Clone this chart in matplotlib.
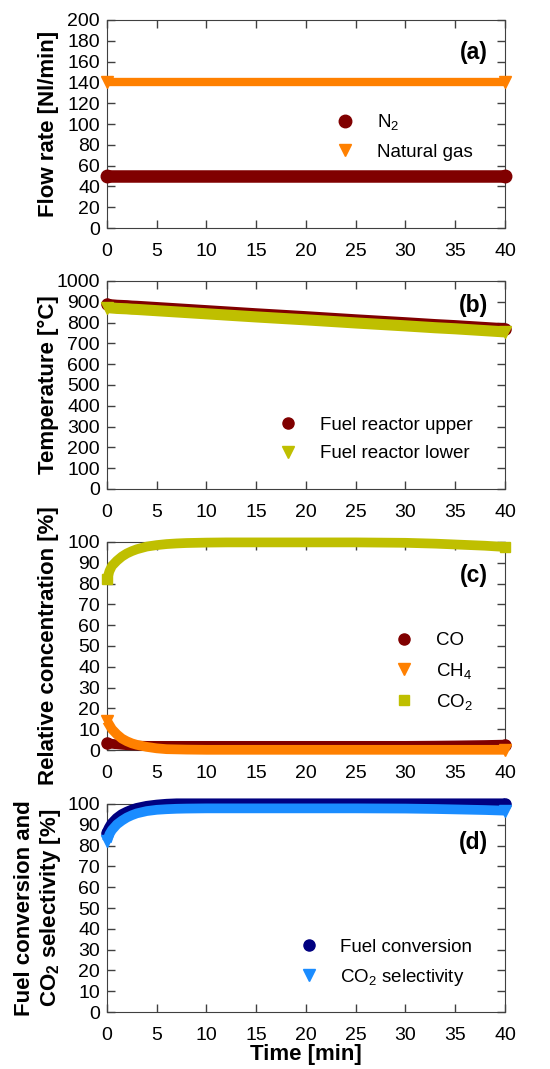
import matplotlib
matplotlib.use('Agg')
import matplotlib.pyplot as plt
from matplotlib.lines import Line2D

plt.rcParams['font.family'] = ['Liberation Sans', 'DejaVu Sans']
plt.rcParams['mathtext.fontset'] = 'custom'
plt.rcParams['mathtext.rm'] = 'Liberation Sans'
plt.rcParams['mathtext.it'] = 'Liberation Sans:italic'
plt.rcParams['mathtext.bf'] = 'Liberation Sans:bold'

# ---------------- data ----------------
t = [0, 0.25, 0.5, 1, 1.5, 2, 2.5, 3, 4, 5, 6, 7, 8, 10, 12, 15,
     20, 25, 30, 33, 35, 38, 40]

n2_flow = [50] * len(t)
ng_flow = [140] * len(t)

temp_upper = [887, 886, 885, 883, 882, 881, 879, 878, 875, 872, 869, 866,
              863, 857, 851, 842, 828, 813, 799, 790, 785, 776, 770]
temp_lower = [872, 871, 870, 868, 867, 866, 864, 863, 860, 857, 854, 851,
              848, 842, 836, 827, 813, 798, 784, 775, 770, 761, 755]

co_conc = [3.5, 3.2, 3.0, 2.7, 2.5, 2.3, 2.2, 2.1, 2.0, 2.0, 2.0, 2.0,
           2.0, 2.0, 2.0, 2.0, 2.0, 2.0, 2.0, 2.1, 2.2, 2.4, 2.6]
ch4_conc = [14, 12, 10, 7.5, 5.5, 4.2, 3.2, 2.5, 1.5, 0.8, 0.4, 0.3,
            0.2, 0.1, 0.1, 0.1, 0.1, 0.1, 0.1, 0.1, 0.1, 0.1, 0.1]
co2_conc = [82, 86, 88.5, 91, 93, 94.5, 95.6, 96.5, 97.8, 98.5, 99, 99.3,
            99.5, 99.7, 99.8, 99.8, 99.8, 99.8, 99.6, 99.2, 98.8, 98.2, 97.6]

fuel_conv = [86, 88.5, 90.5, 93, 94.8, 96, 97, 97.8, 98.8, 99.4, 99.8, 100,
             100, 100, 100, 100, 100, 100, 100, 100, 100, 100, 100]
co2_sel = [82, 85.5, 87.5, 90.2, 92, 93.5, 94.6, 95.5, 96.6, 97.2, 97.5, 97.7,
           97.8, 97.9, 97.9, 97.9, 97.9, 97.9, 97.8, 97.6, 97.4, 97.1, 96.8]

x_ticks = [0, 5, 10, 15, 20, 25, 30, 35, 40]

DRED = '#800000'
ORANGE = '#ff8000'
OLIVE = '#bfbf00'
NAVY = '#000080'
LBLUE = '#1a8cff'

fig = plt.figure(figsize=(5.5, 10.69), dpi=100)
left, width = 0.1945, 0.7236
bottoms = [0.7867, 0.5426, 0.2984, 0.0533]
axes = [fig.add_axes([left, b, width, 0.1946]) for b in bottoms]


def band(ax, y, color, marker, lw=7, ms=9):
    # dense markers in the original merge into a thick band
    ax.plot(t, y, '-', color=color, lw=lw, marker=marker, ms=ms,
            markevery=[0, len(t) - 1], solid_joinstyle='round',
            solid_capstyle='butt', clip_on=False, zorder=3)
    return Line2D([], [], ls='none', marker=marker, color=color, ms=ms)


def style(ax, ymax, ystep, ylabel, panel, py):
    ax.set_xlim(0, 40)
    ax.set_ylim(0, ymax)
    ax.set_xticks(x_ticks)
    ax.set_yticks(range(0, ymax + 1, ystep))
    ax.tick_params(direction='in', top=True, right=True, length=6,
                   width=1, labelsize=14, color='#404040')
    ax.tick_params(axis='x', pad=11)
    ax.tick_params(axis='y', pad=5)
    for s in ax.spines.values():
        s.set_color('#404040')
    ax.set_ylabel(ylabel, fontsize=16, fontweight='bold')
    ax.yaxis.set_label_coords(-0.12, 0.5)
    ax.text(0.957, py, panel, transform=ax.transAxes, ha='right',
            va='center', fontsize=16.5, fontweight='bold')


def leg(ax, handles, labels, y):
    ax.legend(handles, labels, loc='center right', bbox_to_anchor=(0.942, y),
              frameon=False, fontsize=13.5, handlelength=1, handletextpad=1.2,
              borderpad=0, labelspacing=0.6)


# (a)
ax = axes[0]
h1 = band(ax, n2_flow, DRED, 'o', lw=9, ms=9)
h2 = band(ax, ng_flow, ORANGE, 'v', lw=6, ms=8)
style(ax, 200, 20, 'Flow rate [Nl/min]', '(a)', 0.846)
leg(ax, [h1, h2], ['N$_2$', 'Natural gas'], 0.44)

# (b)
ax = axes[1]
h1 = band(ax, temp_upper, DRED, 'o', lw=8, ms=8)
h2 = band(ax, temp_lower, OLIVE, 'v', lw=8, ms=8)
style(ax, 1000, 100, 'Temperature [°C]', '(b)', 0.88)
leg(ax, [h1, h2], ['Fuel reactor upper', 'Fuel reactor lower'], 0.237)

# (c)
ax = axes[2]
h1 = band(ax, co_conc, DRED, 'o', lw=7, ms=8)
h2 = band(ax, ch4_conc, ORANGE, 'v', lw=7, ms=8)
h3 = band(ax, co2_conc, OLIVE, 's', lw=7, ms=7)
style(ax, 100, 10, 'Relative concentration [%]', '(c)', 0.84)
leg(ax, [h1, h2, h3], ['CO', 'CH$_4$', 'CO$_2$'], 0.375)

# (d)
ax = axes[3]
h1 = band(ax, fuel_conv, NAVY, 'o', lw=8, ms=8)
h2 = band(ax, co2_sel, LBLUE, 'v', lw=7, ms=8)
style(ax, 100, 10, 'Fuel conversion and\nCO$_\\mathbf{2}$ selectivity [%]',
      '(d)', 0.817)
ax.yaxis.set_label_coords(-0.11, 0.5)
ax.set_xlabel('Time [min]', fontsize=16, fontweight='bold', labelpad=0)
leg(ax, [h1, h2], ['Fuel conversion', 'CO$_2$ selectivity'], 0.235)

fig.savefig('out.png', dpi=100)
